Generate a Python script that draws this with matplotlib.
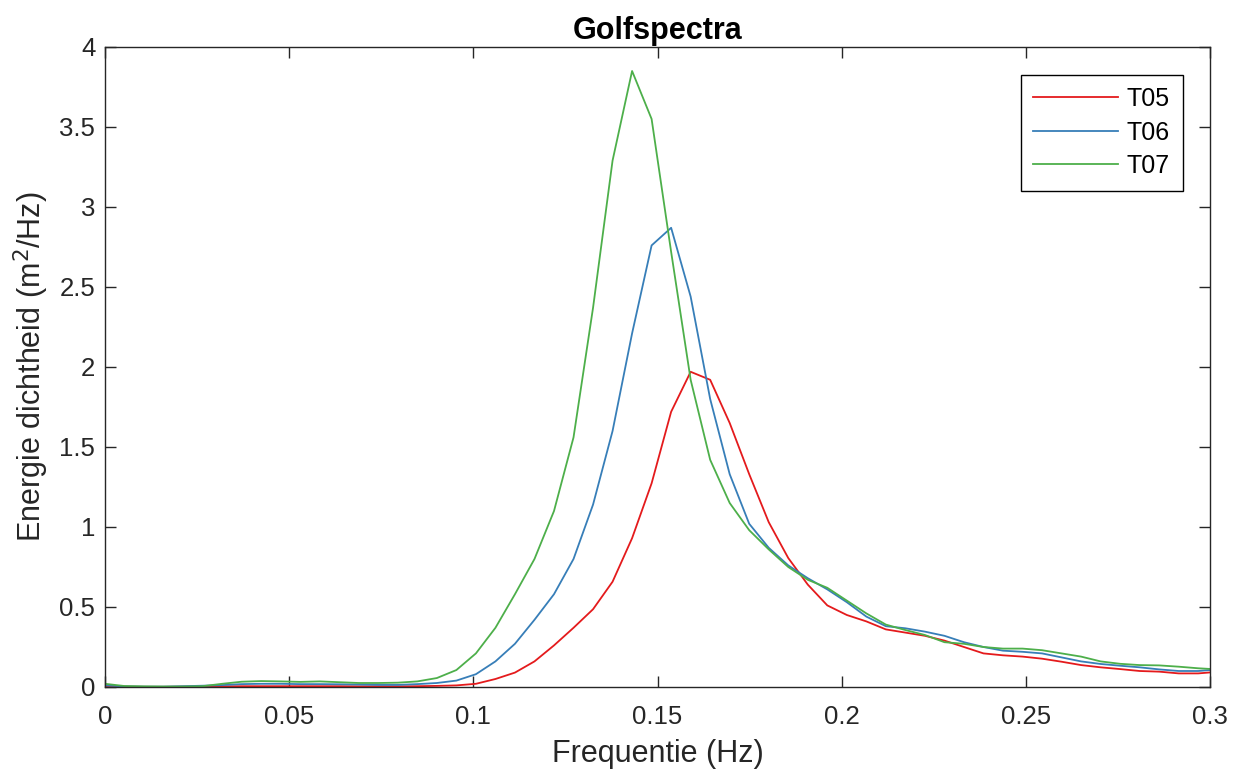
import numpy as np
import matplotlib.pyplot as plt

plt.rcParams['font.family'] = ['Liberation Sans', 'DejaVu Sans']

# frequency bins (Hz)
df = 0.0053
freq = np.arange(58) * df

# energy density spectra (m^2/Hz)
t05 = [0.005, 0.002, 0.001, 0.001, 0.002, 0.003, 0.004, 0.005, 0.005, 0.005,
       0.005, 0.005, 0.005, 0.004, 0.004, 0.004, 0.005, 0.007, 0.01, 0.02,
       0.05, 0.09, 0.16, 0.26, 0.37, 0.486, 0.658, 0.93, 1.273, 1.72,
       1.97, 1.92, 1.65, 1.33, 1.03, 0.806, 0.64, 0.51, 0.45, 0.41,
       0.36, 0.34, 0.32, 0.29, 0.25, 0.21, 0.198, 0.19, 0.177, 0.158,
       0.137, 0.123, 0.112, 0.10, 0.096, 0.085, 0.085, 0.095]
t06 = [0.01, 0.004, 0.002, 0.002, 0.005, 0.008, 0.012, 0.018, 0.02, 0.02,
       0.018, 0.018, 0.017, 0.015, 0.013, 0.013, 0.018, 0.025, 0.04, 0.08,
       0.16, 0.27, 0.42, 0.58, 0.80, 1.14, 1.60, 2.21, 2.76, 2.87,
       2.44, 1.80, 1.33, 1.02, 0.87, 0.76, 0.68, 0.61, 0.53, 0.44,
       0.38, 0.367, 0.346, 0.32, 0.28, 0.25, 0.227, 0.22, 0.21, 0.185,
       0.16, 0.144, 0.133, 0.123, 0.11, 0.10, 0.10, 0.11]
t07 = [0.02, 0.006, 0.004, 0.003, 0.003, 0.005, 0.02, 0.033, 0.037, 0.035,
       0.032, 0.035, 0.03, 0.025, 0.025, 0.027, 0.035, 0.056, 0.106, 0.21,
       0.37, 0.58, 0.80, 1.10, 1.56, 2.37, 3.29, 3.85, 3.55, 2.72,
       1.92, 1.42, 1.15, 0.98, 0.86, 0.75, 0.67, 0.62, 0.54, 0.46,
       0.39, 0.356, 0.325, 0.28, 0.27, 0.25, 0.24, 0.24, 0.23, 0.21,
       0.19, 0.16, 0.145, 0.137, 0.135, 0.127, 0.117, 0.11]

fig = plt.figure(figsize=(12.39, 7.81), dpi=100)
ax = fig.add_axes([105 / 1239, 1 - 687 / 781, 1105 / 1239, 640 / 781])

ax.plot(freq, t05, color='#e41a1c', lw=1.3, label='T05')
ax.plot(freq, t06, color='#377eb8', lw=1.3, label='T06')
ax.plot(freq, t07, color='#4daf4a', lw=1.3, label='T07')

ax.set_xlim(0, 0.3)
ax.set_ylim(0, 4)
ax.set_xticks([0, 0.05, 0.1, 0.15, 0.2, 0.25, 0.3])
ax.set_xticklabels(['0', '0.05', '0.1', '0.15', '0.2', '0.25', '0.3'])
ax.set_yticks(np.arange(0, 4.01, 0.5))
ax.set_yticklabels(['0', '0.5', '1', '1.5', '2', '2.5', '3', '3.5', '4'])
ax.tick_params(direction='in', top=True, right=True, length=8, width=1,
               labelsize=18.5, color='#262626', labelcolor='#262626')
ax.tick_params(axis='x', pad=13)
ax.tick_params(axis='y', pad=7)
for s in ax.spines.values():
    s.set_color('#262626')
    s.set_linewidth(1.0)

ax.set_xlabel('Frequentie (Hz)', fontsize=22, color='#262626', labelpad=7)
ax.set_ylabel('Energie dichtheid (m$^2$/Hz)', fontsize=22, color='#262626', labelpad=6)
ax.set_title('Golfspectra', fontsize=22, fontweight='bold', pad=6)

leg = ax.legend(loc='upper right', fontsize=18, fancybox=False, edgecolor='black',
                framealpha=1, handlelength=3.4, borderaxespad=1.1, labelspacing=0.38,
                handletextpad=0.35, borderpad=0.5)
leg.get_frame().set_linewidth(1.0)

fig.savefig('out.png', dpi=100)
